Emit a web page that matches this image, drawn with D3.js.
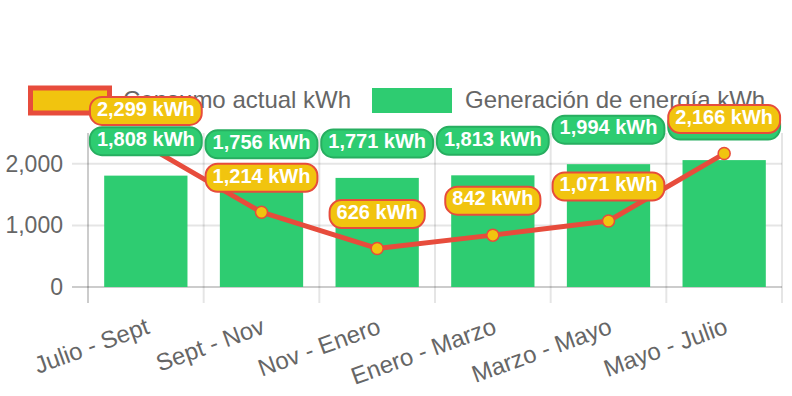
<!DOCTYPE html>
<html>
<head>
<meta charset="utf-8">
<script src="https://cdn.jsdelivr.net/npm/d3@7"></script>
<style>
  html, body { margin: 0; padding: 0; background: #fff; }
  svg { display: block; font-family: 'Liberation Sans', Arial, sans-serif; }
</style>
</head>
<body>
<svg id="chart" width="792" height="396"></svg>
<script>
const categories = ['Julio - Sept', 'Sept - Nov', 'Nov - Enero', 'Enero - Marzo', 'Marzo - Mayo', 'Mayo - Julio'];
const consumo = [2299, 1214, 626, 842, 1071, 2166];
const generacion = [1808, 1756, 1771, 1813, 1994, 2060];
const yTicks = [0, 1000, 2000];
const seriesNames = ['Consumo actual kWh', 'Generación de energía kWh'];

const colors = {
  yellow: '#f1c40f',
  red: '#e74c3c',
  green: '#2ecc71',
  darkGreen: '#27ae60',
  text: '#666',
  grid: 'rgba(0,0,0,0.1)',
  zero: 'rgba(0,0,0,0.2)',
};

const margin = { top: 133, right: 10, bottom: 109, left: 88 };
const width = 792 - margin.left - margin.right;
const height = 396 - margin.top - margin.bottom;

const svg = d3.select('#chart');

// legend (drawn first, labels sit on top of it)
const legend = svg.append('g').attr('class', 'legend');
legend.append('rect')
  .attr('x', 30.5).attr('y', 88).attr('width', 79).attr('height', 25)
  .attr('fill', colors.yellow).attr('stroke', colors.red).attr('stroke-width', 5);
legend.append('text')
  .attr('x', 123).attr('y', 100).attr('dy', '0.35em')
  .attr('fill', colors.text).style('font-size', '24px')
  .text(seriesNames[0]);
legend.append('rect')
  .attr('x', 372).attr('y', 88).attr('width', 80).attr('height', 25)
  .attr('fill', colors.green);
legend.append('text')
  .attr('x', 465).attr('y', 100).attr('dy', '0.35em')
  .attr('fill', colors.text).style('font-size', '24px')
  .text(seriesNames[1]);

const g = svg.append('g').attr('transform', `translate(${margin.left},${margin.top})`);

const x = d3.scaleBand().domain(categories).range([0, width]).padding(0);
const y = d3.scaleLinear().domain([0, 2500]).range([height, 0]);

// grid lines
const bounds = categories.map((c) => x(c)).concat([width]);
g.append('g')
  .selectAll('line')
  .data(bounds)
  .join('line')
  .attr('x1', (d) => d)
  .attr('x2', (d) => d)
  .attr('y1', 0)
  .attr('y2', height + 16)
  .attr('stroke', (d, i) => (i === 0 ? colors.zero : colors.grid))
  .attr('stroke-width', 2);

g.append('g')
  .selectAll('line')
  .data(yTicks)
  .join('line')
  .attr('x1', -16)
  .attr('x2', width)
  .attr('y1', (d) => y(d))
  .attr('y2', (d) => y(d))
  .attr('stroke', (d) => (d === 0 ? colors.zero : colors.grid))
  .attr('stroke-width', 2);

// y tick labels
g.append('g')
  .selectAll('text')
  .data(yTicks)
  .join('text')
  .attr('x', -25)
  .attr('y', (d) => y(d))
  .attr('dy', '0.35em')
  .attr('text-anchor', 'end')
  .attr('fill', colors.text)
  .style('font-size', '23px')
  .text((d) => d3.format(',')(d));

// x tick labels
g.append('g')
  .selectAll('text')
  .data(categories)
  .join('text')
  .attr('transform', (d) => `translate(${x(d) + x.bandwidth() / 2 + 2},${height + 38}) rotate(-20)`)
  .attr('dy', '0.35em')
  .attr('text-anchor', 'end')
  .attr('fill', colors.text)
  .style('font-size', '24px')
  .text((d) => d);

// bars
const barW = x.bandwidth() * 0.72;
g.append('g')
  .selectAll('rect')
  .data(generacion)
  .join('rect')
  .attr('x', (d, i) => x(categories[i]) + (x.bandwidth() - barW) / 2)
  .attr('y', (d) => y(d))
  .attr('width', barW)
  .attr('height', (d) => height - y(d))
  .attr('fill', colors.green);

// line
const cx = (i) => x(categories[i]) + x.bandwidth() / 2;
const line = d3.line().x((d, i) => cx(i)).y((d) => y(d));
g.append('path')
  .datum(consumo)
  .attr('d', line)
  .attr('fill', 'none')
  .attr('stroke', colors.red)
  .attr('stroke-width', 5)
  .attr('stroke-linejoin', 'round');

g.append('g')
  .selectAll('circle')
  .data(consumo)
  .join('circle')
  .attr('cx', (d, i) => cx(i))
  .attr('cy', (d) => y(d))
  .attr('r', 6)
  .attr('fill', colors.yellow)
  .attr('stroke', colors.red)
  .attr('stroke-width', 1.5);

// data labels
function drawLabels(values, bg, border) {
  const lg = g.append('g');
  values.forEach((v, i) => {
    const item = lg.append('g')
      .attr('transform', `translate(${cx(i)},${y(v) - 34.5})`);
    const rect = item.append('rect');
    const txt = item.append('text')
      .attr('text-anchor', 'middle')
      .attr('dy', '0.24em')
      .attr('fill', '#fff')
      .style('font-size', '20px')
      .style('font-weight', 'bold')
      .text(`${d3.format(',')(v)} kWh`);
    const w = txt.node().getComputedTextLength() + 14;
    const h = 28;
    rect.attr('x', -w / 2).attr('y', -h / 2)
      .attr('width', w).attr('height', h)
      .attr('rx', 12)
      .attr('fill', bg)
      .attr('stroke', border)
      .attr('stroke-width', 2);
  });
}

drawLabels(generacion, colors.green, colors.darkGreen);
drawLabels(consumo, colors.yellow, colors.red);
</script>
</body>
</html>
